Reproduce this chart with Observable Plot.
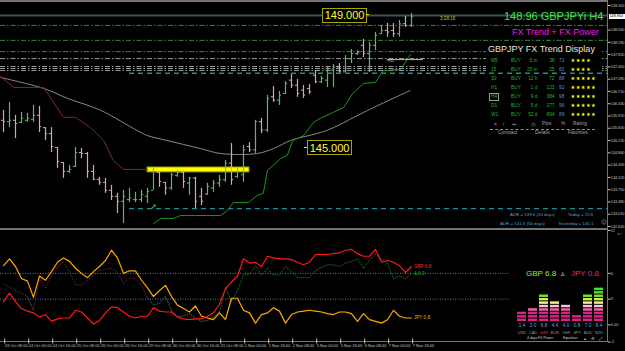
<!DOCTYPE html>
<html>
<head>
<meta charset="utf-8">
<script src="https://cdn.jsdelivr.net/npm/d3@7"></script>
<script src="https://cdn.jsdelivr.net/npm/@observablehq/plot@0.6"></script>
<style>
html,body{margin:0;padding:0;background:#000;overflow:hidden;}
#wrap{position:relative;width:625px;height:351px;background:#000;overflow:hidden;font-family:"Liberation Sans",Arial,sans-serif;}
#wrap svg{position:absolute;}
.t{position:absolute;white-space:nowrap;line-height:1;}
.chrome{position:absolute;background:#747474;}
</style>
</head>
<body>
<div id="wrap"></div>
<script>
// ================= DATA =================
const xTickLabels = ["23 Oct 08:00","24 Oct 00:00","24 Oct 16:00","25 Oct 08:00","26 Oct 00:00","26 Oct 16:00","29 Oct 08:00","30 Oct 00:00","30 Oct 16:00","31 Oct 08:00","1 Nov 00:00","1 Nov 16:00","2 Nov 08:00","5 Nov 00:00","5 Nov 16:00","6 Nov 08:00","7 Nov 00:00","7 Nov 16:00"];

// GBPJPY H4 bars
const high  = [146.14,146.38,145.99,146.08,146.05,146.29,146.26,145.62,145.62,145.02,144.57,144.48,145.02,144.99,144.87,144.48,144.12,144.09,143.88,143.64,143.73,143.79,143.67,143.73,143.79,144.39,144.27,143.97,144.24,144.33,144.33,144.12,144.12,143.79,143.94,144.03,144.18,144.63,145.14,144.39,145.08,145.17,145.84,145.90,146.59,146.86,146.71,147.01,147.25,147.07,146.89,146.92,147.34,147.16,147.43,147.52,147.55,147.79,147.97,147.94,148.28,148.19,148.49,148.70,148.76,148.76,148.85,148.97,149.06];
const low   = [145.47,145.62,145.29,145.74,145.78,145.78,145.47,145.23,144.87,144.39,144.09,144.24,144.42,144.69,144.09,144.03,143.88,143.64,143.42,143.03,142.73,143.36,143.36,143.36,143.33,143.73,143.82,143.58,143.73,144.12,143.79,143.58,143.18,143.27,143.58,143.67,143.82,143.97,143.88,144.09,143.97,144.87,144.84,145.44,145.47,146.38,146.29,146.62,146.80,146.53,146.50,146.62,146.95,146.95,146.83,146.83,147.28,147.28,147.55,147.79,147.73,147.28,147.94,148.43,148.34,148.34,148.34,148.64,148.64];
const open  = [145.84,145.80,145.84,145.78,145.84,145.87,145.99,145.62,145.44,145.02,144.57,144.30,144.45,144.87,144.84,144.30,144.06,143.97,143.73,143.55,143.40,143.45,143.45,143.45,143.55,143.73,144.27,143.97,143.80,144.18,144.27,143.95,144.10,143.55,143.62,143.80,143.95,144.05,144.55,144.15,144.20,145.05,144.95,145.80,145.55,146.55,146.45,146.65,147.05,146.90,146.75,146.80,147.20,147.00,147.05,147.35,147.45,147.30,147.70,147.85,148.10,147.85,148.10,148.45,148.55,148.55,148.45,148.75,148.70];
const close = [145.80,145.84,145.74,145.90,145.90,145.99,145.65,145.44,145.05,144.60,144.30,144.36,144.87,144.84,144.30,144.06,143.97,143.73,143.55,143.40,143.55,143.50,143.45,143.60,143.70,144.30,144.00,143.80,144.20,144.27,144.00,144.10,143.40,143.40,143.85,143.95,144.05,144.55,144.05,144.30,144.95,144.95,145.80,145.55,146.50,146.45,146.60,146.95,146.90,146.65,146.60,146.70,147.00,147.10,147.35,147.45,147.30,147.70,147.85,147.88,147.85,148.10,148.40,148.55,148.50,148.45,148.75,148.70,148.96];

const priceTicks = [142.64,143.01,143.38,143.75,144.12,144.49,144.86,145.23,145.60,145.97,146.34,146.71,147.08,147.45,147.82,148.19,148.56,149.30];
const lastPrice = 148.964;

// horizontal levels
const roundLevels = [149.0];
const greenLevels = [148.70,148.25,147.91];
const grayLevels  = [147.70,147.46,147.40,147.34];
const cyanPrices  = [147.26,143.18];
const cyanFromBar = [21,21];
const zoneBars    = [24,41];
const zonePrices  = [144.27,144.42];
const markPrice   = 147.67;
const markBars    = [64,70];
const arrowBar    = 25, arrowPrice = 143.23;

// moving average (grey) and trailing lines
const maSlowBar   = [-0.5,6.7,10.7,16.2,22.3,24,27.3,32.8,36.2,42.3,45,47.8,49.5,52.8,55,60.7,67.8];
const maSlowPrice = [147.13,146.80,146.50,146.14,145.53,145.38,145.23,144.99,144.84,144.84,144.99,145.23,145.32,145.47,145.62,146.14,146.74];
const trailDnBar   = [-0.5,1.7,6.7,10,12,14.5,16.7,18.3,20,24];
const trailDnPrice = [147.16,146.83,146.83,145.93,145.93,145.62,145.23,144.63,144.36,144.36];
const trailUpBar   = [25,26.2,28.3,29.5,36.2,37.3,38.3,40.8,42.3,43.3,44,46.2,47.3,48.2,50,51.7,52.8,55,56.7,58.2,60,62,63.3,66.2,67.8];
const trailUpPrice = [142.73,142.88,142.88,142.97,142.97,143.12,143.36,143.36,143.58,143.64,144.33,144.69,144.78,145.23,145.38,145.78,145.90,146.08,146.23,146.65,146.95,146.98,147.34,147.37,147.82];

// price labels
const labelPrices = [149.000,145.000];
const labelBars   = [53.2,50.7];

// FX Power panel
const gbpPower  = [2.7,3.7,2.7,1.9,1.6,1.4,0.9,1.2,0.4,0.7,0.8,0.8,1.7,1.5,0.8,0.1,0.5,1.4,2.1,2.0,1.5,1.0,0.8,1.0,1.0,2.0,1.6,1.5,1.5,0.9,0.7,0.6,0.7,0.7,1.0,1.4,2.4,4.2,5.0,5.7,7.7,7.2,7.3,6.8,8.0,7.8,7.7,7.7,7.6,7.3,7.0,7.3,8.2,8.2,8.2,8.3,8.4,8.7,8.8,8.3,8.0,8.0,8.8,7.3,7.5,7.3,6.9,6.1,6.8];
const jpyPower  = [6.9,7.7,6.8,5.4,5.1,3.2,5.7,5.2,6.2,7.3,7.8,7.4,6.6,6.0,5.5,6.2,6.8,7.5,8.7,7.8,6.0,6.3,6.3,5.2,4.3,3.3,4.0,4.6,3.3,2.3,1.9,1.5,2.2,1.0,0.8,0.6,1.4,0.6,3.1,3.1,1.7,1.4,0.2,1.2,1.4,2.0,1.6,0.2,1.2,1.5,1.6,1.7,1.6,1.5,1.3,1.2,1.5,1.5,1.3,0.4,1.3,0.6,0.4,0.2,0.6,1.7,1.0,0.8,0.8];
const diffPower = [4.8,4.4,4.0,3.7,3.3,1.7,5.4,4.3,5.7,6.8,7.3,6.2,4.7,4.6,5.2,5.8,6.3,6.5,6.6,6.1,4.8,5.5,5.4,4.6,3.2,2.3,2.5,3.3,1.7,1.0,1.0,1.3,0.8,0.4,0.5,0.9,1.5,4.4,2.7,4.0,5.8,5.9,6.9,5.8,6.6,5.8,5.8,6.8,6.2,5.5,5.5,5.5,6.3,6.7,7.0,7.0,6.8,7.2,7.4,7.7,6.6,7.5,8.2,7.7,7.2,5.4,5.7,5.4,6.0];
const powerLevels = [6,3];
const powerTicks  = [11,6,3,0,-2];
const powerTickText = ["11","6","3","0.00","-2"];

// equalizer
const currencies  = ["USD","CAD","GBP","EUR","CHF","JPY","AUD","NZD"];
const strength    = [1.4,3.0,6.8,4.4,4.0,0.8,7.0,8.4];
const blockCounts = [3,4,8,6,5,2,8,10];

// trend table
const tfNames    = ["M5","15","30","H1","H4","D1","W1"];
const tfSignal   = ["BUY","BUY","BUY","BUY","BUY","BUY","BUY"];
const tfDuration = ["5 m","15 m","12 h","1 d","9 d","5 d","52 d"];
const tfPips     = [38,25,72,123,384,277,894];
const tfPercent  = [72,60,88,92,98,96,89];
const tfRating   = [4,4,5,5,5,5,5];

// ================= DRAW =================
const wrap = document.getElementById("wrap");
const XD = [-0.5, 100.67];
const UP = "#5fb868", DN = "#dba2b2";
const idx = d3.range(high.length);
const barCol = i => close[i] >= open[i] ? UP : DN;
const baseStyle = {background:"transparent", color:"#c4c4c4", fontFamily:"'Liberation Sans',sans-serif", overflow:"visible"};

function place(svg, left, top, z){ svg.style.left = left+"px"; svg.style.top = top+"px"; svg.style.zIndex = z; wrap.appendChild(svg); return svg; }
function chrome(l,t,w,h){ const d=document.createElement("div"); d.className="chrome"; Object.assign(d.style,{left:l+"px",top:t+"px",width:w+"px",height:h+"px",zIndex:1}); wrap.appendChild(d); }
function txt(str, x, yc, fs, color, opts={}){
  const d=document.createElement("div"); d.className="t"; d.textContent=str;
  d.style.left=x+"px"; d.style.top=(yc-0.5*fs)+"px"; d.style.fontSize=fs+"px"; d.style.color=color;
  d.style.zIndex = opts.z || 5;
  if(opts.right) d.style.transform="translateX(-100%)";
  if(opts.font) d.style.fontFamily=opts.font;
  if(opts.ls) d.style.letterSpacing=opts.ls+"px";
  if(opts.css) Object.assign(d.style, opts.css);
  wrap.appendChild(d); return d;
}

const mainOpts = {width:625, height:229, marginTop:2, marginBottom:1, marginLeft:0, marginRight:18,
  style:baseStyle, x:{domain:XD, axis:null}, y:{domain:[142.58,149.39], axis:null}, color:{type:"identity"}};

const main = Plot.plot({...mainOpts, marks:[
  Plot.ruleY(greenLevels,{stroke:"#2b922b", strokeDasharray:"5,2,1.5,2"}),
  Plot.ruleY(grayLevels,{stroke:"#9c9c9c", strokeDasharray:"5,2,1.5,2"}),
  Plot.ruleY(roundLevels,{stroke:"#3a545e", strokeWidth:2}),
  Plot.rect([{x1:zoneBars[0],x2:zoneBars[1],y1:zonePrices[0],y2:zonePrices[1]}],{x1:"x1",x2:"x2",y1:"y1",y2:"y2",fill:"#ffff00",stroke:"#8a8a00"}),
  Plot.line(maSlowBar.map((b,k)=>[b,maSlowPrice[k]]),{x:d=>d[0],y:d=>d[1],stroke:"#8a8a8a",strokeWidth:1,curve:"catmull-rom"}),
  Plot.line(trailDnBar.map((b,k)=>[b,trailDnPrice[k]]),{x:d=>d[0],y:d=>d[1],stroke:"#8c1c4c",strokeWidth:1}),
  Plot.line(trailUpBar.map((b,k)=>[b,trailUpPrice[k]]),{x:d=>d[0],y:d=>d[1],stroke:"#1c961c",strokeWidth:1}),
  Plot.ruleY([markPrice],{x1:()=>markBars[0],x2:()=>markBars[1],stroke:"#e8c400",strokeWidth:1}),
  Plot.ruleX(idx,{x:i=>i,y1:i=>low[i],y2:i=>high[i],stroke:barCol,strokeWidth:1.2}),
  Plot.ruleY(idx,{y:i=>open[i],x1:i=>i-0.36,x2:i=>i,stroke:barCol,strokeWidth:1}),
  Plot.ruleY(idx,{y:i=>close[i],x1:i=>i,x2:i=>i+0.36,stroke:barCol,strokeWidth:1}),
  Plot.text([[arrowBar,arrowPrice]],{x:d=>d[0],y:d=>d[1],text:()=>"➚",fill:"#22ee22",fontSize:8,fontWeight:"bold",fontFamily:"DejaVu Sans"}),
  Plot.axisY(priceTicks,{anchor:"right",tickSize:2.5,tickPadding:0.8,tickFormat:d=>d.toFixed(3),fontSize:3.75,color:"#c8c8c8"})
]});
place(main,0,0,2);
const sx = main.scale("x"), sy = main.scale("y");

// table background and cyan levels on top
const tb=document.createElement("div"); tb.className="t"; Object.assign(tb.style,{left:"486px",top:"43px",width:"116px",height:"95px",background:"#000",zIndex:3}); wrap.appendChild(tb);
const cyan = Plot.plot({...mainOpts, marks:[
  Plot.ruleY(cyanPrices.map((p,k)=>({p,from:cyanFromBar[k]})),{y:"p",x1:"from",x2:()=>XD[1],stroke:"#1b8c9c",strokeWidth:1.4,strokeDasharray:"5,4"})
]});
place(cyan,0,0,4);

// chrome
chrome(0,0,608,2); chrome(0,228,608,2); chrome(607,0,1,342); chrome(0,341,608,1);

// price labels with boxes
labelPrices.forEach((p,k)=>{
  const left = sx.apply(labelBars[k]), yc = sy.apply(p);
  const b = txt(p.toFixed(3), left, yc, 11, "#ffff1e", {css:{border:"1px solid #a8a400",padding:"1.5px 1.5px 0.5px 1.5px",background:"#000",lineHeight:"11px"}});
  b.style.top = (yc-7.2)+"px";
  const tail=document.createElement("div"); tail.className="t";
  Object.assign(tail.style,{top:(yc-0.5)+"px",width:"3px",height:"1px",background:"#e6e600",zIndex:5});
  tail.style.left = (k===0 ? left+43.5 : left-3.5)+"px";
  wrap.appendChild(tail);
});

// current price label
txt(lastPrice.toFixed(3), 609, sy.apply(lastPrice), 3.75, "#000", {css:{background:"#fff",padding:"0.6px 0.5px",width:"15px"}});

txt("3:28:16", 440, 19, 4.6, "#c8c800");
txt("R1L", 388, 62, 3.6, "#c0c0c0");

// titles
txt("148.96 GBPJPYi H4", 504, 16.8, 11, "#3de23d");
txt("FX Trend + FX Power", 512, 32.4, 9, "#e21ee2");
txt("GBPJPY FX Trend Display", 488, 49.8, 9, "#e8e4d6", {z:6});

// table rows
tfNames.forEach((n,r)=>{
  const yc = 61 + 9*r, fs=4.8, g="#25b425";
  const tf = txt(n, 491, yc, fs, g, {z:6});
  if(n==="H4"){ Object.assign(tf.style,{outline:"1px solid #9a9a9a",outlineOffset:"1.3px"}); }
  txt(tfSignal[r], 511, yc, fs, g, {z:6});
  txt(tfDuration[r], 537.5, yc, fs, g, {z:6, right:true});
  txt(String(tfPips[r]), 554.5, yc, fs, g, {z:6, right:true});
  txt(String(tfPercent[r]), 559, yc, fs, "#5b93c4", {z:6});
  txt("★".repeat(tfRating[r]), 570.5, yc, 5.2, "#ffff00", {z:6, font:"DejaVu Sans", ls:0.5});
});
const gray="#a4a4a4";
txt("×",494,124,5,gray,{z:6}); txt("⁄",503,124,5,gray,{z:6}); txt("↔",512,124,5,gray,{z:6,font:"DejaVu Sans"});
txt("◷",531,124,5,gray,{z:6,font:"DejaVu Sans"}); txt("Pips",542,124,4.8,gray,{z:6}); txt("%",561,124,4.8,gray,{z:6}); txt("Rating",573,124,4.8,gray,{z:6});
const dl=document.createElement("div"); dl.className="t"; Object.assign(dl.style,{left:"490px",top:"129px",width:"105px",height:"0",borderTop:"1px dashed #8a8a8a",zIndex:6}); wrap.appendChild(dl);
txt("Compact",498,133.5,4.8,gray,{z:6}); txt("Details",535,133.5,4.8,gray,{z:6}); txt("Favorites",568,133.5,4.8,gray,{z:6});

// ADR info
const adr="#4ea6de";
txt("ADR = 139.6  (20 days)",510,215.5,4.4,adr); txt("Today = 72.6",568,215.5,4.4,adr);
txt("ADR = 141.5  (50 days)",500,224.2,4.4,adr); txt("Yesterday = 140.1",558,224.2,4.4,adr);
txt("☺",601,222.5,5.5,"#9a9a9a",{font:"DejaVu Sans"});

// ================= FX POWER PANEL =================
const segs = idx.slice(0,-1);
const diffCol = k => { const d = (gbpPower[k]+gbpPower[k+1]-jpyPower[k]-jpyPower[k+1])/2; return d>=1.5 ? "#1e8e1e" : d<=-3 ? "#7c2352" : "#747474"; };
const last = idx.length-1;
const lower = Plot.plot({width:625, height:122, marginTop:1, marginBottom:9.5, marginLeft:0, marginRight:18,
  style:baseStyle, x:{domain:XD, axis:null}, y:{domain:[-2,11], axis:null}, color:{type:"identity"},
  marks:[
    Plot.ruleY(powerLevels,{stroke:"#4f80a8",strokeDasharray:"1,1.5"}),
    Plot.link(segs,{x1:k=>k,y1:k=>diffPower[k],x2:k=>k+1,y2:k=>diffPower[k+1],stroke:diffCol,strokeWidth:1,strokeDasharray:"1,1"}),
    Plot.line(idx,{x:i=>i,y:i=>jpyPower[i],stroke:"#ffa800",strokeWidth:1.2}),
    Plot.line(idx,{x:i=>i,y:i=>gbpPower[i],stroke:"#ff1818",strokeWidth:1.2}),
    Plot.text([
      {v:gbpPower[last], t:"GBP "+gbpPower[last].toFixed(1), c:"#ff2a2a"},
      {v:diffPower[last], t:"Δ "+diffPower[last].toFixed(1), c:"#22a822"},
      {v:jpyPower[last], t:"JPY "+jpyPower[last].toFixed(1), c:"#ffa800"}
    ],{x:()=>last,y:"v",text:"t",fill:"c",textAnchor:"start",dx:2.5,fontSize:4.6}),
    Plot.axisX(d3.range(0,idx.length,4),{anchor:"bottom",tickSize:5,tickPadding:0,dy:-3,dx:1.2,textAnchor:"start",tickFormat:d=>xTickLabels[Math.round(d/4)],fontSize:4,color:"#c4c4c4"}),
    Plot.axisY(powerTicks,{anchor:"right",tickSize:2.5,tickPadding:0.8,tickFormat:d=>powerTickText[powerTicks.indexOf(d)],fontSize:3.9,color:"#c8c8c8"})
  ]});
place(lower,0,229,2);

// equalizer panel
const ep=document.createElement("div"); ep.className="t"; Object.assign(ep.style,{left:"509px",top:"262px",width:"98px",height:"79px",background:"#000",zIndex:3}); wrap.appendChild(ep);
txt("GBP "+strength[2].toFixed(1), 526, 274, 8, "#a6e02a");
txt("Δ", 561, 274.5, 5, "#c8c8c8", {font:"DejaVu Sans"});
txt("JPY "+strength[5].toFixed(1), 571, 274, 8, "#e6208c");

const rowColors = ["#e01e88","#e01e88","#e01e88","#f064a6","#f8c2d6","#f6ee8e","#c8f04e","#6ee030","#4cdc2a","#2cf02c"];
const blocks = [];
currencies.forEach((c,k)=>{ for(let b=0;b<blockCounts[k];b++) blocks.push({c,b}); });
const eq = Plot.plot({width:95, height:63, marginTop:0, marginBottom:22, marginLeft:0, marginRight:0,
  style:baseStyle,
  x:{domain:currencies, padding:0.2, axis:null}, y:{domain:[0,11.95], axis:null}, color:{type:"identity"},
  marks:[
    Plot.barY(blocks,{x:"c",y1:d=>d.b,y2:d=>d.b+0.72,fill:d=>rowColors[d.b],inset:0}),
    Plot.text(currencies,{x:d=>d,y:()=>0,text:(d,i)=>strength[i].toFixed(1),dy:3.6,fontSize:4.6,fill:"#5ea8e6"}),
    Plot.text(currencies,{x:d=>d,y:()=>0,text:d=>d,dy:11.3,fontSize:4,fill:d=>d==="GBP"?"#e82020":d==="JPY"?"#e8a000":"#9a9a9a"})
  ]});
place(eq,511.7,280,4);

const lt="#d0d0d0";
txt("4 days",527,339,3.5,lt); txt("FX Power",538,339,3.5,lt); txt("Equalizer",563,339,3.5,lt);
txt("▴",584,339,4,lt,{font:"DejaVu Sans"}); txt("⚙",591,339,4,lt,{font:"DejaVu Sans"}); txt("⤢",599,339,4,lt,{font:"DejaVu Sans"});
</script>
</body>
</html>
